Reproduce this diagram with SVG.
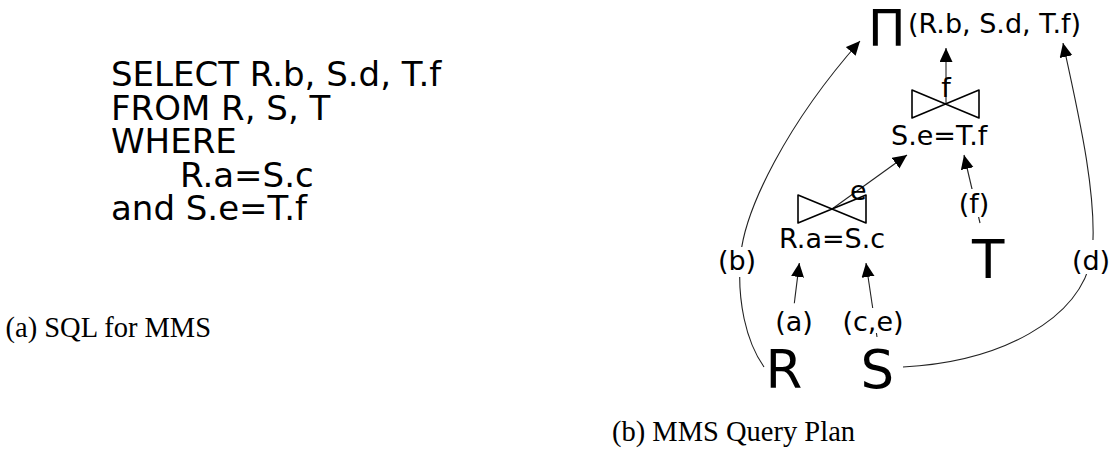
<svg xmlns="http://www.w3.org/2000/svg" width="1111" height="451" viewBox="0 0 1111 451">
<style>
.sql{font-family:"DejaVu Sans",Verdana,sans-serif;font-size:34px;fill:#000}
.lbl{font-family:"DejaVu Sans",Verdana,sans-serif;font-size:27px;fill:#000}
.big{font-family:"DejaVu Sans",Verdana,sans-serif;font-size:53px;fill:#000}
.cap{font-family:"Liberation Serif","Times New Roman",serif;font-size:28.5px;fill:#000}
.edge{fill:none;stroke:#222;stroke-width:1.1}
.join{fill:none;stroke:#000;stroke-width:1.6;stroke-linejoin:round}
.bg{fill:#fff}
</style>
<defs>
<marker id="ah" markerUnits="userSpaceOnUse" markerWidth="15" markerHeight="14" refX="14" refY="6.5" orient="auto">
<path d="M0,0 L14,6.5 L0,13 z" fill="#000"/>
</marker>
</defs>
<rect width="1111" height="451" fill="#fff"/>
<g id="sql">
<text class="sql" x="111" y="86">SELECT R.b, S.d, T.f</text>
<text class="sql" x="111" y="120">FROM R, S, T</text>
<text class="sql" x="111" y="153">WHERE</text>
<text class="sql" x="180" y="187">R.a=S.c</text>
<text class="sql" x="111" y="220">and S.e=T.f</text>
</g>
<text id="caption-a" class="cap" x="5.5" y="337">(a) SQL for MMS</text>
<text id="caption-b" class="cap" x="612" y="441">(b) MMS Query Plan</text>
<g id="connectors">
<path class="edge" d="M946,104 L946,48" marker-end="url(#ah)"/>
<path class="edge" d="M832,209 L907,155" marker-end="url(#ah)"/>
<path class="edge" d="M980,223 L964,155" marker-end="url(#ah)"/>
<path class="edge" d="M794.3,303.3 L799.3,263" marker-end="url(#ah)"/>
<path class="edge" d="M877,337 L866,263" marker-end="url(#ah)"/>
<path class="edge" d="M764,367 C745,340 738,300 740,263 C742,210 790,120 860,41" marker-end="url(#ah)"/>
<path class="edge" d="M903,367 C1000,362 1080,320 1092,256 C1098,200 1080,120 1063,43" marker-end="url(#ah)"/>
</g>
<g id="project">
<text class="big" x="868" y="45" style="font-size:50px">Π</text>
<text class="lbl" x="908" y="33">(R.b, S.d, T.f)</text>
</g>
<g id="join-top">
<path class="join" d="M912,90 L979,118 L979,90 L912,118 Z"/>
<text class="lbl" x="891" y="145">S.e=T.f</text>
<text class="lbl" x="946" y="97" text-anchor="middle">f</text>
</g>
<g id="join-bottom">
<path class="join" d="M798,195 L866,223 L866,195 L798,223 Z"/>
<text class="lbl" x="779" y="248">R.a=S.c</text>
<text class="lbl" x="850" y="200">e</text>
</g>
<g id="node-R"><text class="big" x="765.5" y="388">R</text></g>
<g id="node-S"><text class="big" x="860.5" y="388">S</text></g>
<g id="node-T"><text class="big" x="972" y="278">T</text></g>
<g id="label-a"><text class="lbl" x="794" y="331" text-anchor="middle">(a)</text></g>
<g id="label-ce"><rect class="bg" x="842" y="308" width="62" height="25"/><text class="lbl" x="873" y="331" text-anchor="middle">(c,e)</text></g>
<g id="label-f"><rect class="bg" x="959" y="189" width="31" height="28"/><text class="lbl" x="974" y="213" text-anchor="middle">(f)</text></g>
<g id="label-b"><rect class="bg" x="718" y="247" width="38" height="30"/><text class="lbl" x="737" y="270" text-anchor="middle">(b)</text></g>
<g id="label-d"><rect class="bg" x="1072" y="240" width="38" height="34"/><text class="lbl" x="1091" y="270" text-anchor="middle">(d)</text></g>
</svg>
